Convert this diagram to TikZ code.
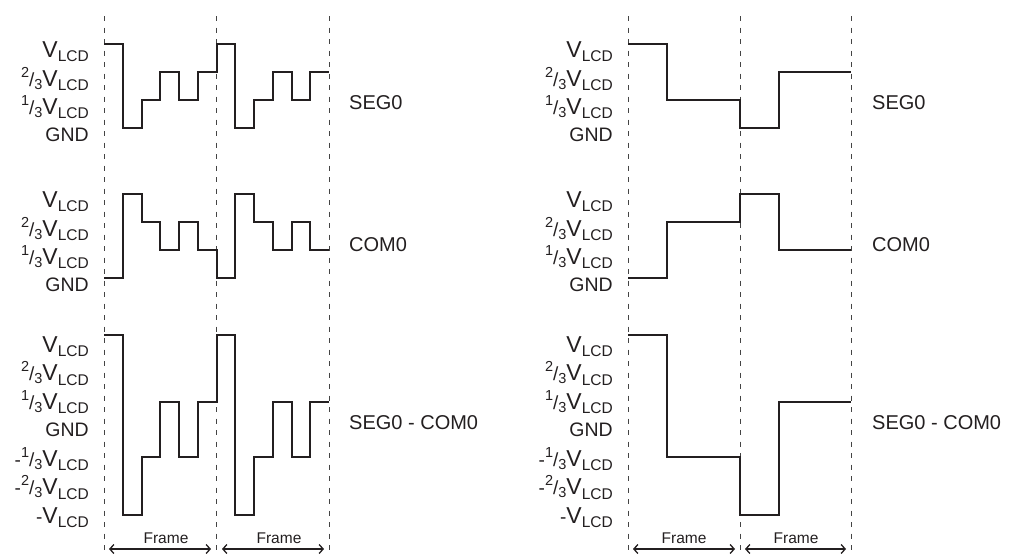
\documentclass[tikz,border=0pt]{standalone}
\usepackage{fontspec}
\setmainfont{Liberation Sans}
\usetikzlibrary{arrows.meta}
\definecolor{ink}{HTML}{231F20}
\definecolor{dashgray}{HTML}{444444}
\newcommand{\vlcdtxt}{{\fontsize{23}{23}\selectfont V}\raisebox{-4.5pt}{\fontsize{15.5}{15.5}\selectfont LCD}}
\newcommand{\frtxt}[2]{\raisebox{9pt}{\fontsize{14.5}{14.5}\selectfont #1}{\fontsize{19}{19}\selectfont /}\raisebox{-3pt}{\fontsize{14.5}{14.5}\selectfont #2}}
\newcommand{\gndtxt}{{\fontsize{19.5}{19.5}\selectfont GND}}
\newcommand{\mintxt}{{\fontsize{19}{19}\selectfont -}}
\tikzset{
  lvl/.style={anchor=base east, inner sep=0pt, text=ink},
  sig/.style={anchor=west, inner sep=0pt, text=ink, font=\fontsize{20}{24}\selectfont},
  frm/.style={inner sep=0pt, text=ink, font=\fontsize{15.5}{18}\selectfont},
  wave/.style={line width=2pt, draw=ink, line join=miter},
  grid/.style={draw=dashgray, line width=1pt, dash pattern=on 5pt off 6.5pt},
  frarrow/.style={draw=ink, line width=1.3pt, {Straight Barb[length=4pt,width=9pt]}-{Straight Barb[length=4pt,width=9pt]}}
}
\begin{document}
\begin{tikzpicture}[x=1pt,y=-1pt]
\useasboundingbox (0,0) rectangle (1016,555);
% dashed frame boundaries
\foreach \xx in {104,216.5,329,628,740,851}{
  \draw[grid] (\xx,16) -- (\xx,555);
}
% level labels, both panels
\foreach \lx/\pn in {89/L,613/R}{
  % SEG0
  \node[lvl] (\pn sa) at (\lx,57) {\vlcdtxt};
  \node[lvl] (\pn sb) at (\lx,86) {\frtxt{2}{3}\vlcdtxt};
  \node[lvl] (\pn sc) at (\lx,114) {\frtxt{1}{3}\vlcdtxt};
  \node[lvl] (\pn sd) at (\lx,141) {\gndtxt};
  % COM0
  \node[lvl] (\pn ca) at (\lx,207) {\vlcdtxt};
  \node[lvl] (\pn cb) at (\lx,236) {\frtxt{2}{3}\vlcdtxt};
  \node[lvl] (\pn cc) at (\lx,264) {\frtxt{1}{3}\vlcdtxt};
  \node[lvl] (\pn cd) at (\lx,291) {\gndtxt};
  % SEG0 - COM0
  \node[lvl] (\pn da) at (\lx,352) {\vlcdtxt};
  \node[lvl] (\pn db) at (\lx,380.5) {\frtxt{2}{3}\vlcdtxt};
  \node[lvl] (\pn dc) at (\lx,409) {\frtxt{1}{3}\vlcdtxt};
  \node[lvl] (\pn dd) at (\lx,436) {\gndtxt};
  \node[lvl] (\pn de) at (\lx,466) {\mintxt\frtxt{1}{3}\vlcdtxt};
  \node[lvl] (\pn df) at (\lx,494.5) {\mintxt\frtxt{2}{3}\vlcdtxt};
  \node[lvl] (\pn dg) at (\lx,523) {\mintxt\vlcdtxt};
}
% signal names
\foreach \sx/\pn in {349/L,872/R}{
  \node[sig] (\pn seg) at (\sx,103) {SEG0};
  \node[sig] (\pn com) at (\sx,245) {COM0};
  \node[sig] (\pn dif) at (\sx,423) {SEG0 - COM0};
}
% left waveforms
\draw[wave] (104,44) -| (122.75,128) -| (141.5,100) -| (160.25,72) -| (179,100) -| (197.75,72) -| (216.5,44) -| (235.25,128) -| (254,100) -| (272.75,72) -| (291.5,100) -| (310.25,72) -- (329,72);
\draw[wave] (104,278) -| (122.75,194) -| (141.5,222) -| (160.25,250) -| (179,222) -| (197.75,250) -| (216.5,278) -| (235.25,194) -| (254,222) -| (272.75,250) -| (291.5,222) -| (310.25,250) -- (329,250);
\draw[wave] (104,335) -| (122.75,515) -| (141.5,457) -| (160.25,402) -| (179,457) -| (197.75,402) -| (216.5,335) -| (235.25,515) -| (254,457) -| (272.75,402) -| (291.5,457) -| (310.25,402) -- (329,402);
% right waveforms
\draw[wave] (628,44) -| (667,100) -| (740,128) -| (779,72) -- (851,72);
\draw[wave] (628,278) -| (667,222) -| (740,194) -| (779,250) -- (851,250);
\draw[wave] (628,335) -| (667,457) -| (740,515) -| (779,402) -- (851,402);
% frame labels and arrows
\node[frm] (f1) at (166,538) {Frame};
\node[frm] (f2) at (279,538) {Frame};
\node[frm] (f3) at (684,538) {Frame};
\node[frm] (f4) at (796,538) {Frame};
\coordinate (a1s) at (109,549); \coordinate (a1e) at (211,549);
\coordinate (a2s) at (222,549); \coordinate (a2e) at (324,549);
\coordinate (a3s) at (633,549); \coordinate (a3e) at (735,549);
\coordinate (a4s) at (745,549); \coordinate (a4e) at (846,549);
\draw[frarrow] (a1s) -- (a1e);
\draw[frarrow] (a2s) -- (a2e);
\draw[frarrow] (a3s) -- (a3e);
\draw[frarrow] (a4s) -- (a4e);
\end{tikzpicture}
\end{document}
